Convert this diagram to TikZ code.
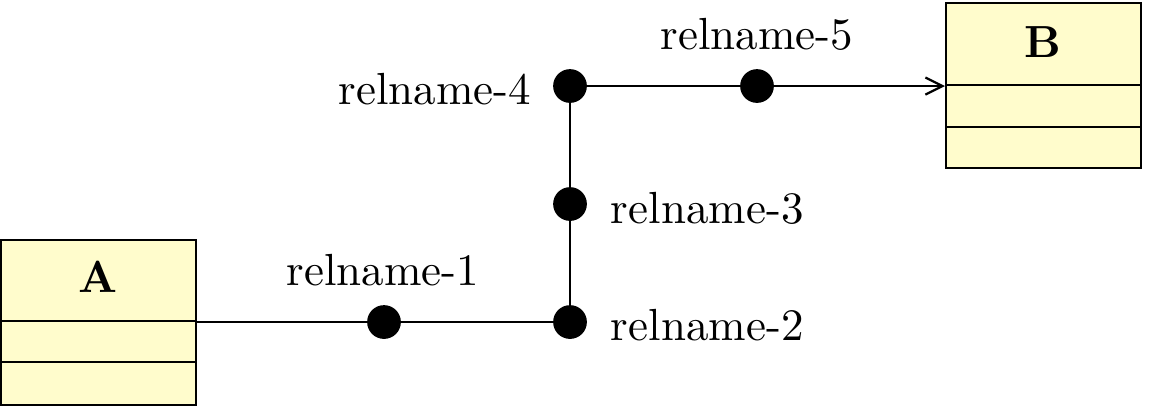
\documentclass[tikz,border=0pt]{standalone}
\usetikzlibrary{arrows.meta}
\begin{document}
\begin{tikzpicture}[x=0.2222pt,y=-0.2222pt,
  classbox/.style={draw,fill=yellow!20,line width=0.45pt},
  relline/.style={line width=0.4pt},
  reldot/.style={circle,fill=black,inner sep=0pt,minimum size=7.5pt},
  lbl/.style={inner sep=0pt}]
\useasboundingbox (0,0) rectangle (1157,406);
% class A
\draw[classbox] (1,240) rectangle (196,405);
\draw[line width=0.45pt] (1,321) -- (196,321);
\draw[line width=0.45pt] (1,362) -- (196,362);
\node[lbl,font=\bfseries] (A) at (98,277) {A};
\coordinate (Aout) at (196,322);
% class B
\draw[classbox] (946,3) rectangle (1141,168);
\draw[line width=0.45pt] (946,85) -- (1141,85);
\draw[line width=0.45pt] (946,127) -- (1141,127);
\node[lbl,font=\bfseries] (B) at (1043,42) {B};
\coordinate (Bin) at (945,86);
% dots
\node[reldot] (d1) at (384,322) {};
\node[reldot] (d2) at (570,322) {};
\node[reldot] (d3) at (570,204) {};
\node[reldot] (d4) at (570,86) {};
\node[reldot] (d5) at (757,86) {};
% connectors
\draw[relline] (Aout) -- (d1.center) -- (d2.center) -- (d3.center) -- (d4.center) -- (d5.center);
\draw[relline,-{Straight Barb[length=3.8pt,width=3.8pt,line width=0.5pt]}] (d5.center) -- (Bin);
% labels
\node[lbl] (l1) at (383,270) {relname-1};
\node[lbl,anchor=west] (l2) at (610,325) {relname-2};
\node[lbl,anchor=west] (l3) at (610,208) {relname-3};
\node[lbl,anchor=east] (l4) at (532,89) {relname-4};
\node[lbl] (l5) at (757,34) {relname-5};
\end{tikzpicture}
\end{document}
